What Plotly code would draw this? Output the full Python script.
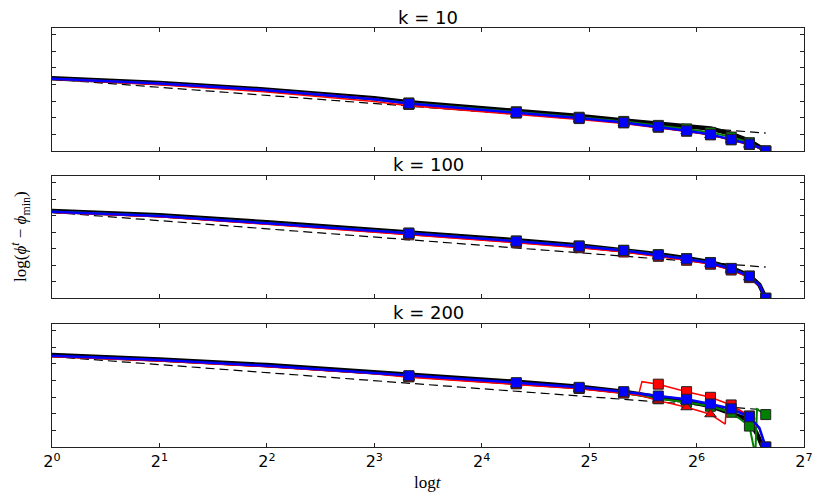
import math
import plotly.graph_objects as go

# ---------------- data ----------------
T_MAIN = [1, 2, 4, 8, 10, 20, 30, 40, 50, 60, 70, 80, 90, 96, 100]
T_DASH = [1, 100]
MARK_EVERY = 10
X_TICKS = [1, 2, 4, 8, 16, 32, 64, 128]
X_TICK_LABELS = ["2<sup>%d</sup>" % i for i in range(8)]
Y_TICKS = [0, 1, 2, 3, 4, 5, 6, 7]
PANEL_TITLES = ["k = 10", "k = 100", "k = 200"]

# k = 10
K10_BLACK = [4.37, 4.09, 3.69, 3.17, 2.93, 2.42, 2.10, 1.84, 1.64, 1.53, 1.35, 1.03, 0.62, 0.25, 0.0]
K10_GREEN = [4.34, 4.06, 3.65, 3.12, 2.89, 2.36, 2.03, 1.78, 1.54, 1.33, 1.12, 0.84, 0.50, 0.22, 0.0]
K10_RED_SQ = [4.35, 4.07, 3.67, 3.14, 2.80, 2.28, 1.95, 1.69, 1.43, 1.19, 0.97, 0.67, 0.39, 0.18, 0.0]
K10_RED_TRI = [4.31, 3.99, 3.55, 2.98, 2.72, 2.22, 1.90, 1.66, 1.41, 1.18, 0.96, 0.66, 0.38, 0.17, 0.0]
K10_BLUE = [4.34, 4.06, 3.66, 3.12, 2.86, 2.32, 1.98, 1.72, 1.46, 1.22, 1.00, 0.70, 0.42, 0.20, 0.0]
K10_DASH = [4.32, 1.08]

# k = 100
K100_BLACK = [5.28, 5.03, 4.60, 4.15, 3.99, 3.51, 3.20, 2.94, 2.67, 2.43, 2.18, 1.84, 1.37, 0.82, 0.0]
K100_GREEN = [5.25, 5.00, 4.56, 4.11, 3.95, 3.47, 3.17, 2.91, 2.64, 2.40, 2.16, 1.81, 1.35, 0.81, 0.0]
K100_RED_SQ = [5.20, 4.93, 4.48, 4.02, 3.84, 3.36, 3.06, 2.80, 2.54, 2.30, 2.06, 1.71, 1.25, 0.75, 0.0]
K100_RED_TRI = [5.21, 4.94, 4.49, 4.03, 3.86, 3.38, 3.08, 2.82, 2.56, 2.32, 2.08, 1.73, 1.27, 0.76, 0.0]
K100_BLUE = [5.24, 4.98, 4.54, 4.09, 3.93, 3.45, 3.15, 2.89, 2.62, 2.38, 2.14, 1.79, 1.33, 0.80, 0.0]
K100_DASH = [5.20, 1.89]

# k = 200
K200_T_BLACK = [1, 2, 4, 8, 10, 20, 30, 40, 50, 60, 70, 80, 90, 95, 98]
K200_BLACK = [5.53, 5.27, 4.93, 4.52, 4.34, 3.92, 3.62, 3.32, 3.00, 2.75, 2.47, 2.00, 1.62, 0.70, 0.0]
K200_T_GREEN = [1, 2, 4, 8, 10, 20, 30, 40, 50, 60, 70, 80, 90, 93.5, 94.5, 100]
K200_GREEN = [5.46, 5.20, 4.86, 4.44, 4.25, 3.82, 3.53, 3.26, 2.90, 2.69, 2.45, 2.09, 1.26, -0.5, 2.27, 1.95]
K200_T_RED_SQ = [1, 2, 4, 8, 10, 20, 30, 40, 44, 45, 50, 60, 70, 80, 90, 96, 100]
K200_RED_SQ = [5.45, 5.19, 4.84, 4.42, 4.22, 3.80, 3.52, 3.25, 3.13, 3.93, 3.78, 3.33, 2.99, 2.53, 1.87, 1.10, 0.0]
K200_T_RED_TRI = [1, 2, 4, 8, 10, 20, 30, 40, 44, 50, 60, 70, 77, 77.6, 80, 90, 96, 100]
K200_RED_TRI = [5.44, 5.18, 4.83, 4.41, 4.20, 3.78, 3.50, 3.22, 3.12, 2.79, 2.39, 1.97, 1.38, 2.60, 2.47, 1.85, 1.08, 0.0]
K200_BLUE = [5.49, 5.23, 4.89, 4.47, 4.29, 3.87, 3.59, 3.33, 3.07, 2.87, 2.59, 2.30, 1.82, 1.15, 0.0]
K200_DASH = [5.44, 2.23]

# ---------------- styles ----------------
BLACK, GREEN, RED, BLUE = "#000000", "#008000", "#ff0000", "#0000ff"

panels = [
    dict(dash=K10_DASH, series=[
        (T_MAIN, K10_BLACK, BLACK, 4.5, None),
        (T_MAIN, K10_GREEN, GREEN, 2, "square"),
        (T_MAIN, K10_RED_TRI, RED, 1.5, "triangle-up"),
        (T_MAIN, K10_RED_SQ, RED, 1.5, "square"),
        (T_MAIN, K10_BLUE, BLUE, 2.5, "square"),
    ]),
    dict(dash=K100_DASH, series=[
        (T_MAIN, K100_BLACK, BLACK, 4.5, None),
        (T_MAIN, K100_GREEN, GREEN, 2, "square"),
        (T_MAIN, K100_RED_TRI, RED, 1.5, "triangle-up"),
        (T_MAIN, K100_RED_SQ, RED, 1.5, "square"),
        (T_MAIN, K100_BLUE, BLUE, 2.5, "square"),
    ]),
    dict(dash=K200_DASH, series=[
        (K200_T_BLACK, K200_BLACK, BLACK, 4.5, None),
        (K200_T_GREEN, K200_GREEN, GREEN, 2, "square"),
        (K200_T_RED_TRI, K200_RED_TRI, RED, 1.5, "triangle-up"),
        (K200_T_RED_SQ, K200_RED_SQ, RED, 1.5, "square"),
        (T_MAIN, K200_BLUE, BLUE, 2.5, "square"),
    ]),
]

fig = go.Figure()

# page body margin offset (browser default 8px)
OFF = 8
FIG_W, FIG_H = 830 - OFF, 498 - OFF
LEFT, RIGHT = 52 - OFF, 804 - OFF
TOP, BOT = 28 - OFF, 447 - OFF
H = BOT - TOP
W = RIGHT - LEFT
px_domains = [(27.7, 151), (176, 298.3), (324, 447)]


def dom(a, b):
    a, b = a - OFF, b - OFF
    return [max(0, (BOT - b) / H), min(1, (BOT - a) / H)]


def py(yref_px):
    return (BOT - (yref_px - OFF)) / H


for i, p in enumerate(panels):
    sfx = "" if i == 0 else str(i + 1)
    xa, ya = "x" + sfx, "y" + sfx
    fig.add_trace(go.Scatter(x=T_DASH, y=p["dash"], mode="lines", xaxis=xa, yaxis=ya,
                             line=dict(color=BLACK, width=1.2, dash="9px,5px"),
                             showlegend=False, hoverinfo="skip"))
    for (ts, ys, col, w, sym) in p["series"]:
        fig.add_trace(go.Scatter(x=ts, y=ys, mode="lines", xaxis=xa, yaxis=ya,
                                 line=dict(color=col, width=w), showlegend=False,
                                 hoverinfo="skip"))
        if sym:
            mx = [t for t in ts if t % MARK_EVERY == 0]
            my = [y for t, y in zip(ts, ys) if t % MARK_EVERY == 0]
            fig.add_trace(go.Scatter(x=mx, y=my, mode="markers", xaxis=xa, yaxis=ya,
                                     marker=dict(symbol=sym, size=10, color=col,
                                                 line=dict(color="#222222", width=1)),
                                     showlegend=False, hoverinfo="skip", cliponaxis=True))

axis_common = dict(showline=True, linecolor="#222222", linewidth=1.3, mirror="ticks",
                   ticks="inside", ticklen=4, tickwidth=1, tickcolor="#222222",
                   showgrid=False, zeroline=False)

layout = dict(width=FIG_W, height=FIG_H, plot_bgcolor="white", paper_bgcolor="white",
              margin=dict(l=LEFT, r=FIG_W - RIGHT, t=TOP, b=FIG_H - BOT), showlegend=False,
              font=dict(family="DejaVu Sans", color="black"))

for i in range(3):
    sfx = "" if i == 0 else str(i + 1)
    layout["xaxis" + sfx] = dict(axis_common, type="log", range=[0, math.log10(128)],
                                 tickvals=X_TICKS, ticktext=X_TICK_LABELS,
                                 showticklabels=(i == 2), anchor="y" + sfx,
                                 tickfont=dict(family="DejaVu Sans", size=16, color="black"),
                                 domain=[0, 1])
    layout["yaxis" + sfx] = dict(axis_common, range=[0, 7.4], tickvals=Y_TICKS,
                                 showticklabels=False, anchor="x" + sfx,
                                 domain=dom(*px_domains[i]))

fig.update_layout(**layout)

title_y = [17, 164, 312]
for txt, yy in zip(PANEL_TITLES, title_y):
    fig.add_annotation(text=txt, xref="paper", yref="paper", x=0.5, y=py(yy),
                       showarrow=False, xanchor="center", yanchor="middle",
                       font=dict(family="DejaVu Sans", size=18, color="black"),
                       borderpad=0)

fig.add_annotation(text="log<i>t</i>", xref="paper", yref="paper", x=0.5,
                   y=py(482), showarrow=False, xanchor="center", yanchor="middle",
                   font=dict(family="Liberation Serif", size=17, color="black"))
fig.add_annotation(text="log(<i>ϕ</i><sup><i>t</i></sup> − <i>ϕ</i><sub>min</sub>)",
                   xref="paper", yref="paper", x=(20 - 52) / W, y=py(237),
                   textangle=-90, showarrow=False, xanchor="center", yanchor="middle",
                   font=dict(family="Liberation Serif", size=17, color="black"))

fig.write_html("out.html")
